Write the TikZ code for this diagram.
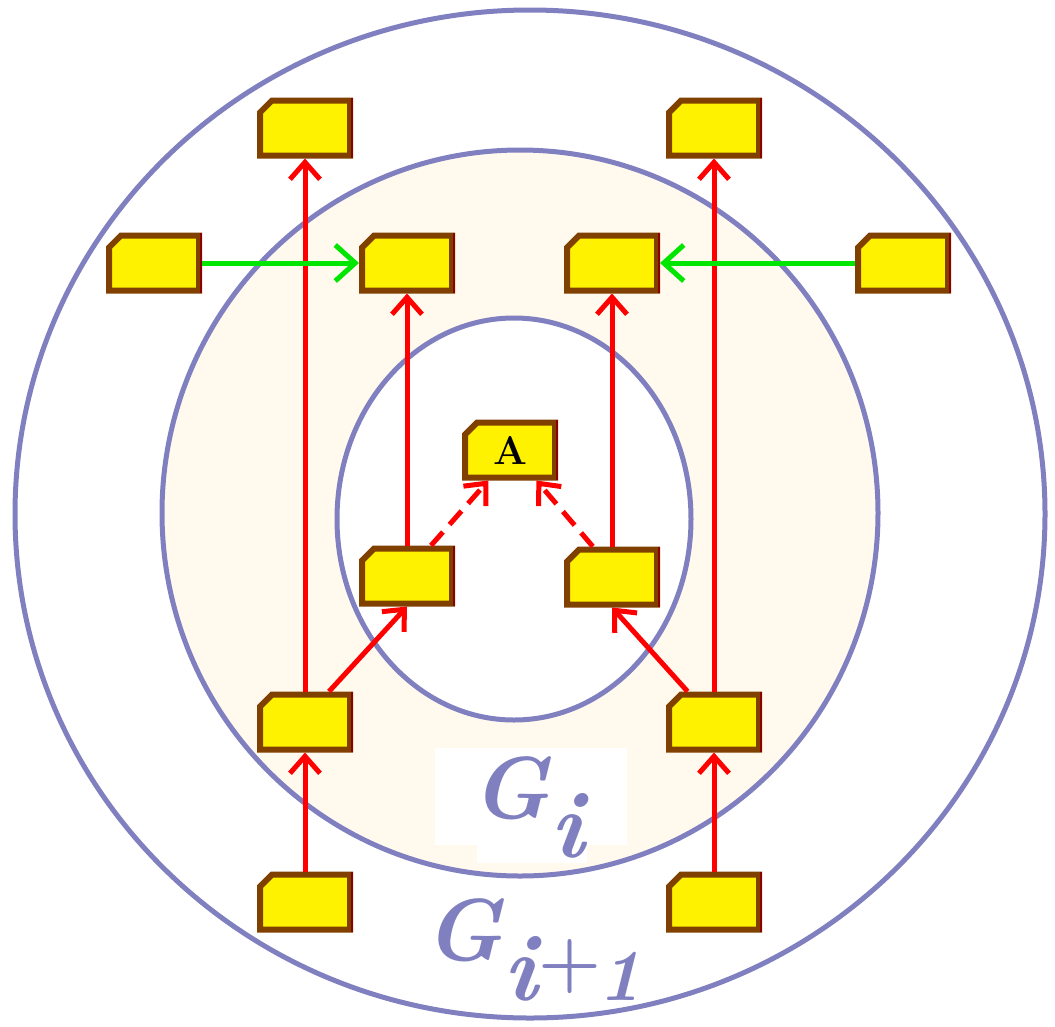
\documentclass[tikz,border=0pt]{standalone}
\usepackage{fontspec}
\usetikzlibrary{arrows.meta,calc}
\definecolor{ringc}{RGB}{128,128,192}
\definecolor{creamc}{RGB}{255,249,238}
\definecolor{boxb}{RGB}{128,64,0}
\definecolor{boxr}{RGB}{140,0,0}
\definecolor{redc}{RGB}{255,0,0}
\definecolor{greenc}{RGB}{0,230,0}
\newcommand\yblk[4]{%
  \filldraw[blkline] ({#2-45},{#3-15.5}) -- ({#2-33},{#3-27.5}) -- ({#2+45},{#3-27.5})
     -- ({#2+45},{#3+27.5}) -- ({#2-45},{#3+27.5}) -- cycle;
  \draw[draw=boxr, line width=2pt] ({#2+47},{#3-30}) -- ({#2+47},{#3+30});
  \node[blkn] (#1) at (#2,#3) {#4};}
\begin{document}
\begin{tikzpicture}[x=1pt,y=-1pt,
 blkline/.style={draw=boxb, fill=yellow, line width=6pt, line join=miter},
 blkn/.style={rectangle, minimum width=96pt, minimum height=61pt, inner sep=0pt, outer sep=0pt},
 ring/.style={draw=ringc, line width=5pt},
 rarr/.style={draw=redc, line width=5pt, -{Straight Barb[length=17pt,width=30pt]}},
 rline/.style={draw=redc, line width=5pt, dash pattern=on 18pt off 10pt},
 garr/.style={draw=greenc, line width=5pt, -{Straight Barb[length=20pt,width=36pt]}},
 lbl/.style={text=ringc, inner sep=0pt}]
\useasboundingbox (0,0) rectangle (1055,1026);
\fill[white] (0,0) rectangle (1055,1026);
\fill[creamc] (520,513) ellipse [x radius=358, y radius=363];
\fill[white] (514,519) ellipse [x radius=177, y radius=201];
\fill[white] (435,748) rectangle (627,845);
\fill[white] (477,845) rectangle (587,863);
\draw[ring] (530,514) ellipse [x radius=515, y radius=504];
\draw[ring] (520,513) ellipse [x radius=358, y radius=363];
\draw[ring] (514,519) ellipse [x radius=177, y radius=201];

\yblk{t1L}{305}{128}{}
\yblk{t1R}{714}{128}{}
\yblk{r2a}{154}{263}{}
\yblk{r2b}{407}{263}{}
\yblk{r2c}{612}{263}{}
\yblk{r2d}{903}{263}{}
\yblk{A}{510}{450}{\fontsize{40}{40}\selectfont\bfseries A}
\yblk{m4L}{407}{576}{}
\yblk{m4R}{612}{577}{}
\yblk{b5L}{305}{722}{}
\yblk{b5R}{714}{722}{}
\yblk{b6L}{305}{902}{}
\yblk{b6R}{714}{902}{}

\draw[rarr] (b6L.north) -- (b5L.south);
\draw[rarr] (b6R.north) -- (b5R.south);
\draw[rarr] (b5L.north) -- (t1L.south);
\draw[rarr] (b5R.north) -- (t1R.south);
\draw[rarr] ($(b5L.north)!0.5!(b5L.north east)$) -- (m4L.south);
\draw[rarr] ($(b5R.north)!0.55!(b5R.north west)$) -- (m4R.south);
\draw[rarr] (m4L.north) -- (r2b.south);
\draw[rarr] (m4R.north) -- (r2c.south);
\coordinate (dLs) at ($(m4L.north)!0.5!(m4L.north east)$);
\coordinate (dLe) at ($(A.south)!0.45!(A.south west)$);
\coordinate (dRs) at ($(m4R.north)!0.4!(m4R.north west)$);
\coordinate (dRe) at ($(A.south)!0.55!(A.south east)$);
\draw[rline] (dLs) -- ($(dLe)!6pt!(dLs)$);
\draw[rarr] ($(dLe)!8pt!(dLs)$) -- (dLe);
\draw[rline] (dRs) -- ($(dRe)!6pt!(dRs)$);
\draw[rarr] ($(dRe)!8pt!(dRs)$) -- (dRe);
\draw[garr] (r2a.east) -- (r2b.west);
\draw[garr] (r2d.west) -- (r2c.east);

\node[lbl, anchor=base west, font=\fontsize{88}{88}\selectfont\bfseries\itshape] (gi) at (471,818) {G};
\node[lbl, anchor=base west, font=\fontsize{95}{95}\selectfont\bfseries\itshape] (gisub) at (550,857) {i};
\node[lbl, anchor=base west, font=\fontsize{88}{88}\selectfont\bfseries\itshape] (gj) at (424,960) {G};
\node[lbl, anchor=base west, font=\fontsize{95}{95}\selectfont\bfseries\itshape] (gjsub) at (503,1000) {i};
\node[lbl, anchor=center, font=\fontsize{72}{72}\selectfont\bfseries] (gjplus) at (570,967) {+};
\node[lbl, anchor=base west, font=\fontsize{73}{73}\selectfont\bfseries\itshape] (gjone) at (598,1000) {1};
\end{tikzpicture}
\end{document}
